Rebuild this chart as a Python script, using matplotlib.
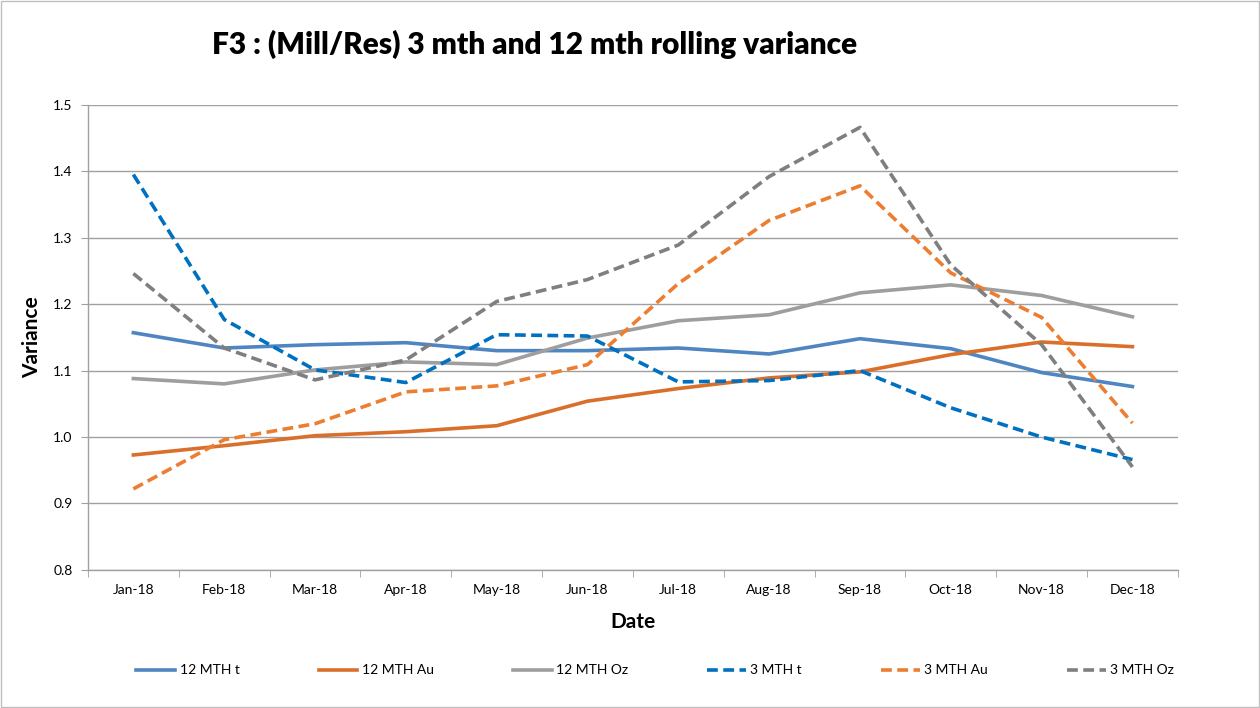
import numpy as np
import matplotlib
matplotlib.use('Agg')
import matplotlib.pyplot as plt
from matplotlib.patches import Rectangle

plt.rcParams['font.family'] = ['Lato', 'DejaVu Sans']

# monthly rolling variance values
months = ['Jan-18', 'Feb-18', 'Mar-18', 'Apr-18', 'May-18', 'Jun-18',
          'Jul-18', 'Aug-18', 'Sep-18', 'Oct-18', 'Nov-18', 'Dec-18']

mth12_t = [1.157, 1.134, 1.139, 1.142, 1.130, 1.130, 1.134, 1.125, 1.148, 1.133, 1.097, 1.076]
mth12_au = [0.973, 0.987, 1.002, 1.008, 1.017, 1.054, 1.073, 1.089, 1.098, 1.124, 1.143, 1.136]
mth12_oz = [1.088, 1.080, 1.101, 1.113, 1.109, 1.149, 1.175, 1.184, 1.217, 1.229, 1.213, 1.181]
mth3_t = [1.395, 1.177, 1.101, 1.082, 1.154, 1.152, 1.083, 1.085, 1.100, 1.044, 1.000, 0.966]
mth3_au = [0.922, 0.996, 1.020, 1.068, 1.077, 1.109, 1.231, 1.326, 1.378, 1.247, 1.180, 1.021]
mth3_oz = [1.246, 1.134, 1.086, 1.116, 1.204, 1.237, 1.289, 1.392, 1.466, 1.259, 1.139, 0.955]

fig = plt.figure(figsize=(12.6, 7.08), dpi=100)
ax = fig.add_axes([0.0698, 0.195, 0.865, 0.657])

x = np.arange(len(months))
lw = 2.6
dash = (3.0, 1.5)

ax.plot(x, mth12_t, color='#4F86C1', lw=lw, label='12 MTH t')
ax.plot(x, mth12_au, color='#DA6F2C', lw=lw, label='12 MTH Au')
ax.plot(x, mth12_oz, color='#9E9E9E', lw=lw, label='12 MTH Oz')
ax.plot(x, mth3_t, color='#0070C0', lw=lw, dashes=dash, label='3 MTH t')
ax.plot(x, mth3_au, color='#ED7D31', lw=lw, dashes=dash, label='3 MTH Au')
ax.plot(x, mth3_oz, color='#7F7F7F', lw=lw, dashes=dash, label='3 MTH Oz')

ax.set_xlim(-0.5, len(months) - 0.5)
ax.set_ylim(0.8, 1.5)
ax.set_yticks(np.arange(0.8, 1.51, 0.1))
ax.set_yticklabels(['%.1f' % v for v in np.arange(0.8, 1.51, 0.1)], fontsize=10)
ax.set_xticks(x)
ax.set_xticklabels(months, fontsize=10)
ax.set_xticks(np.arange(-0.5, len(months), 1), minor=True)
ax.tick_params(axis='x', which='major', length=0, pad=10)
ax.tick_params(axis='x', which='minor', length=5, color='#A0A0A0')
ax.tick_params(axis='y', length=5, color='#A0A0A0', pad=6)

ax.grid(axis='y', color='#A0A0A0', lw=1)
ax.set_axisbelow(True)
for s in ['top', 'right']:
    ax.spines[s].set_visible(False)
for s in ['left', 'bottom']:
    ax.spines[s].set_color('#A0A0A0')
    ax.spines[s].set_linewidth(1)

ax.set_xlabel('Date', fontsize=15, fontweight='bold', labelpad=12)
ax.set_ylabel('Variance', fontsize=15, fontweight='bold', labelpad=8)

fig.text(0.424, 0.937, 'F3 : (Mill/Res) 3 mth and 12 mth rolling variance',
         fontsize=21.5, fontweight='heavy', ha='center', va='center')

fig.legend(loc='center', bbox_to_anchor=(0.52, 0.053), ncol=6, frameon=False,
           fontsize=10, handlelength=2.8, columnspacing=5.7, handletextpad=0.3)

# outer chart border
fig.patches.append(Rectangle((0.001, 0.001), 0.998, 0.998, transform=fig.transFigure,
                             fill=False, edgecolor='#BFBFBF', lw=1))

fig.savefig('out.png', dpi=100)
